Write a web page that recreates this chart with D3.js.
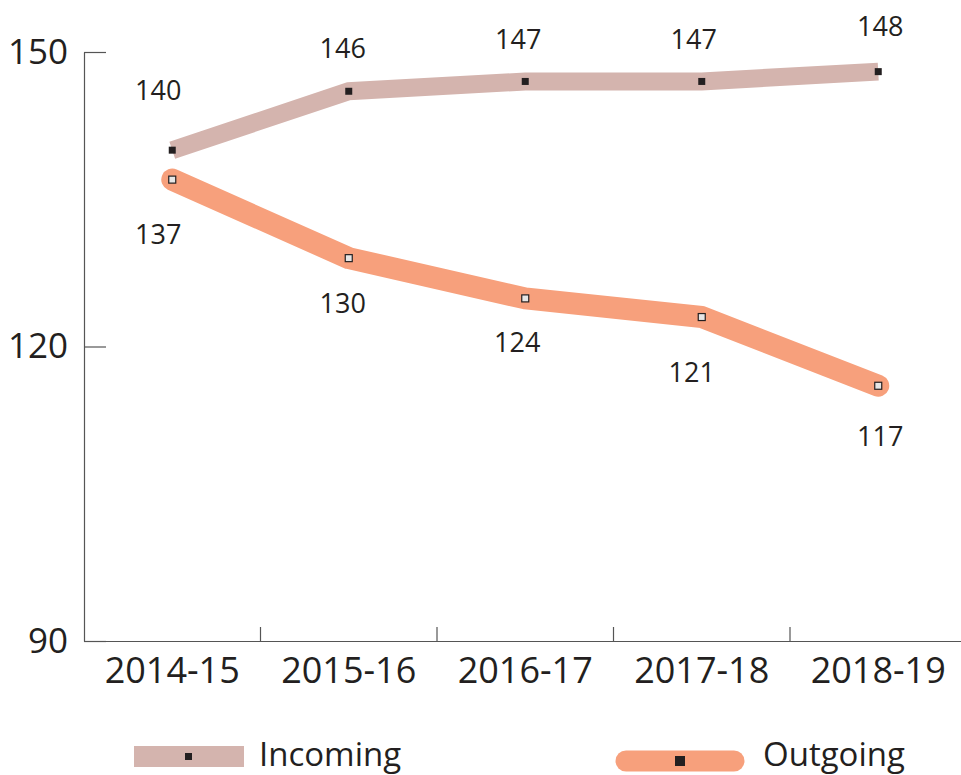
<!DOCTYPE html>
<html>
<head>
<meta charset="utf-8">
<script src="https://cdn.jsdelivr.net/npm/d3@7"></script>
<style>
  body { margin: 0; background: #fff; }
  svg text { font-family: "Open Sans", sans-serif; fill: #231f20; }
  .axis path, .axis line { stroke: #555; stroke-width: 1.2; }
</style>
</head>
<body>
<svg id="chart" width="961" height="775"></svg>
<script>
// data
var years = ["2014-15", "2015-16", "2016-17", "2017-18", "2018-19"];
var incoming = [140, 146, 147, 147, 148];
var outgoing = [137, 129, 124.9, 123, 116];          // as plotted
var incomingLabels = ["140", "146", "147", "147", "148"];
var outgoingLabels = ["137", "130", "124", "121", "117"];
var yTicks = [90, 120, 150];

var svg = d3.select("#chart"),
    margin = {top: 52, left: 84, bottom: 134},
    width = 966.5,
    height = 775 - margin.bottom,
    inColor = "#d4b4ae",
    outColor = "#f7a07c";

var x = d3.scaleBand().domain(years).range([margin.left, width]).padding(0);
var y = d3.scaleLinear().domain([90, 150]).range([height, margin.top]);
var cx = function (d) { return x(d) + x.bandwidth() / 2; };

// axes
svg.append("g")
    .attr("class", "axis")
    .attr("transform", "translate(" + margin.left + ",0)")
    .call(d3.axisLeft(y).tickValues(yTicks).tickSize(-22).tickSizeOuter(0).tickPadding(16))
    .call(function (g) {
        g.selectAll("text").attr("font-size", 35).attr("font-family", "Open Sans").attr("fill", "#231f20");
    });

svg.append("g")
    .attr("class", "axis")
    .attr("transform", "translate(0," + height + ")")
    .call(d3.axisBottom(x).tickSize(0).tickSizeOuter(0).tickPadding(16))
    .call(function (g) {
        g.selectAll("text").attr("font-size", 36).attr("font-family", "Open Sans").attr("fill", "#231f20");
    });

// category boundary ticks
svg.append("g").selectAll("line")
    .data(years.slice(1))
    .enter().append("line")
    .attr("x1", function (d) { return x(d); })
    .attr("x2", function (d) { return x(d); })
    .attr("y1", height)
    .attr("y2", height - 14)
    .attr("stroke", "#555")
    .attr("stroke-width", 1.2);

var line = d3.line()
    .x(function (d) { return cx(d.year); })
    .y(function (d) { return y(d.v); });

var inData = years.map(function (d, i) { return {year: d, v: incoming[i], label: incomingLabels[i]}; });
var outData = years.map(function (d, i) { return {year: d, v: outgoing[i], label: outgoingLabels[i]}; });

// lines
svg.append("path")
    .datum(inData)
    .attr("d", line)
    .attr("fill", "none")
    .attr("stroke", inColor)
    .attr("stroke-width", 18)
    .attr("stroke-linejoin", "miter");

svg.append("path")
    .datum(outData)
    .attr("d", line)
    .attr("fill", "none")
    .attr("stroke", outColor)
    .attr("stroke-width", 22)
    .attr("stroke-linecap", "round")
    .attr("stroke-linejoin", "round");

// markers
svg.append("g").selectAll("rect")
    .data(inData)
    .enter().append("rect")
    .attr("x", function (d) { return cx(d.year) - 3.5; })
    .attr("y", function (d) { return y(d.v) - 3.5; })
    .attr("width", 7)
    .attr("height", 7)
    .attr("fill", "#231f20");

svg.append("g").selectAll("rect")
    .data(outData)
    .enter().append("rect")
    .attr("x", function (d) { return cx(d.year) - 3.5; })
    .attr("y", function (d) { return y(d.v) - 3.5; })
    .attr("width", 7)
    .attr("height", 7)
    .attr("fill", "#e6e6e6")
    .attr("stroke", "#231f20")
    .attr("stroke-width", 1.2);

// value labels (small nudges so they sit as in the original)
var inNudge = [[-14, -50], [-6, -33], [-7, -32], [-8, -32], [2, -36]],
    outNudge = [[-14, 64], [-6, 55], [-8, 54], [-10, 65], [2, 60]];

svg.append("g").selectAll("text")
    .data(inData)
    .enter().append("text")
    .attr("x", function (d, i) { return cx(d.year) + inNudge[i][0]; })
    .attr("y", function (d, i) { return y(d.v) + inNudge[i][1]; })
    .attr("text-anchor", "middle")
    .attr("font-size", 27)
    .text(function (d) { return d.label; });

svg.append("g").selectAll("text")
    .data(outData)
    .enter().append("text")
    .attr("x", function (d, i) { return cx(d.year) + outNudge[i][0]; })
    .attr("y", function (d, i) { return y(d.v) + outNudge[i][1]; })
    .attr("text-anchor", "middle")
    .attr("font-size", 27)
    .text(function (d) { return d.label; });

// legend
var leg = svg.append("g");
leg.append("rect")
    .attr("x", 134).attr("y", 746).attr("width", 110).attr("height", 21)
    .attr("fill", inColor);
leg.append("rect")
    .attr("x", 185).attr("y", 753).attr("width", 7).attr("height", 7)
    .attr("fill", "#231f20");
leg.append("text")
    .attr("x", 259).attr("y", 766).attr("font-size", 33)
    .text("Incoming");

leg.append("line")
    .attr("x1", 626).attr("x2", 734).attr("y1", 761).attr("y2", 761)
    .attr("stroke", outColor).attr("stroke-width", 21).attr("stroke-linecap", "round");
leg.append("rect")
    .attr("x", 675).attr("y", 756).attr("width", 10).attr("height", 10)
    .attr("fill", "#231f20");
leg.append("text")
    .attr("x", 763).attr("y", 766).attr("font-size", 33)
    .text("Outgoing");
</script>
</body>
</html>
